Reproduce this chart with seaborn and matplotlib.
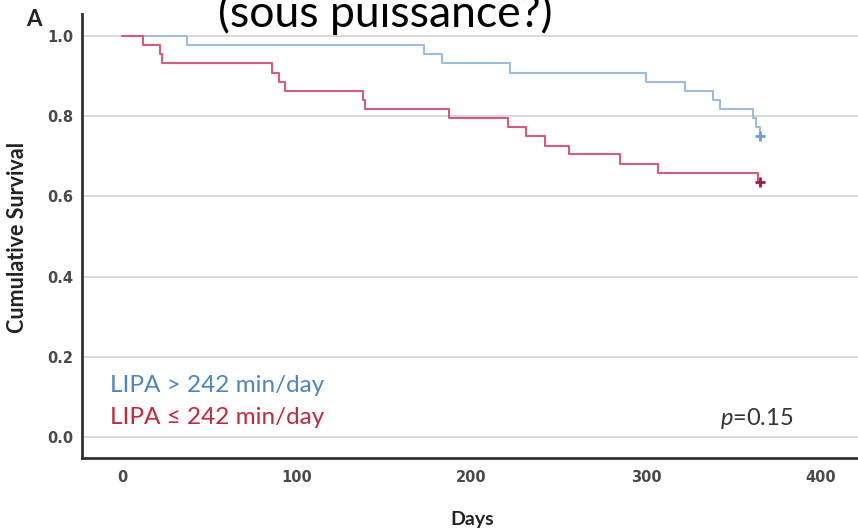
import matplotlib
matplotlib.use("Agg")
import matplotlib.pyplot as plt
import seaborn as sns
import pandas as pd

# Kaplan-Meier steps (days since inclusion, cumulative survival after each event)
high_days = [0, 37, 173, 183, 222, 300, 322, 338, 342, 361, 363, 365]
high_surv = [1.0, 0.977, 0.955, 0.932, 0.909, 0.886, 0.864, 0.841, 0.818, 0.795, 0.773, 0.750]
low_days = [0, 12, 22, 23, 86, 90, 93, 138, 139, 187, 221, 231, 242, 256, 285, 307, 364]
low_surv = [1.0, 0.977, 0.955, 0.932, 0.909, 0.886, 0.864, 0.841, 0.818, 0.795, 0.773,
            0.750, 0.727, 0.705, 0.682, 0.659, 0.636]

# censored observations at end of follow-up
censor_days = [365, 365]
censor_surv = [0.750, 0.636]

group_labels = ["LIPA > 242 min/day", "LIPA \u2264 242 min/day"]
x_ticks = [0, 100, 200, 300, 400]
y_ticks = [0.0, 0.2, 0.4, 0.6, 0.8, 1.0]
p_value = "0.15"

line_colors = ["#9dbce2", "#d65b7c"]
text_colors = ["#4f84bd", "#c3283f"]
censor_colors = ["#6f9dcc", "#a3173a"]

sns.set_theme(style="white")
plt.rcParams["font.family"] = ["Lato", "DejaVu Sans"]
plt.rcParams["mathtext.fontset"] = "custom"
plt.rcParams["mathtext.it"] = "Lato:italic"
plt.rcParams["mathtext.rm"] = "Lato"

W, H = 858, 529
fig = plt.figure(figsize=(W / 100, H / 100), dpi=100)
ax = fig.add_axes([82 / W, 1 - 458 / H, (858 - 82) / W, (458 - 14) / H])

high = pd.DataFrame({"days": high_days, "surv": high_surv})
low = pd.DataFrame({"days": low_days, "surv": low_surv})

for y in y_ticks:
    ax.axhline(y, color="#d6d6d6", lw=1.3, zorder=0)

sns.lineplot(data=high, x="days", y="surv", drawstyle="steps-post", estimator=None,
             sort=False, color=line_colors[0], lw=1.5, ax=ax)
sns.lineplot(data=low, x="days", y="surv", drawstyle="steps-post", estimator=None,
             sort=False, color=line_colors[1], lw=1.5, ax=ax)
for d, s, c in zip(censor_days, censor_surv, censor_colors):
    sns.scatterplot(x=[d], y=[s], marker="+", s=45, linewidth=2, color=c, ax=ax, zorder=5)

ax.set_xlim(-22.9, 421.2)
ax.set_ylim(-0.052, 1.055)
ax.set_xticks(x_ticks)
ax.set_xticklabels([str(t) for t in x_ticks])
ax.set_yticks(y_ticks)
ax.set_yticklabels([f"{t:.1f}" for t in y_ticks])
ax.tick_params(axis="both", length=0, labelsize=10.5, labelcolor="#4a4a4a")
ax.tick_params(axis="x", pad=9)
ax.tick_params(axis="y", pad=6)
for lab in ax.get_xticklabels() + ax.get_yticklabels():
    lab.set_fontweight("bold")
    lab.set_family(["DejaVu Sans"])

for side in ["top", "right"]:
    ax.spines[side].set_visible(False)
for side in ["left", "bottom"]:
    ax.spines[side].set_color("#333333")
    ax.spines[side].set_linewidth(2)

ax.set_xlabel("")
ax.set_ylabel("")
fig.text(472 / W, 1 - 520 / H, "Days", fontsize=14, fontweight="bold", color="#222222",
         ha="center", va="center")
fig.text(18 / W, 1 - 237 / H, "Cumulative Survival", fontsize=15.5, fontweight="bold",
         color="#222222", ha="center", va="center", rotation=90)

# group labels and log-rank p value
fig.text(110 / W, 1 - 392 / H, group_labels[0], color=text_colors[0], fontsize=17.5,
         va="baseline", ha="left")
fig.text(110 / W, 1 - 424 / H, group_labels[1], color=text_colors[1], fontsize=17.5,
         va="baseline", ha="left")
fig.text(720 / W, 1 - 425 / H, r"$\it{p}$" + "=" + p_value, color="#333333", fontsize=17,
         va="baseline", ha="left")

fig.text(34 / W, 1 - 19 / H, "A", fontsize=16, fontweight="bold", color="#222222",
         ha="center", va="center")
fig.text(385 / W, 1 - 27 / H, "(sous puissance?)", fontsize=32, color="black",
         ha="center", va="baseline")

fig.savefig("out.png", dpi=100)
